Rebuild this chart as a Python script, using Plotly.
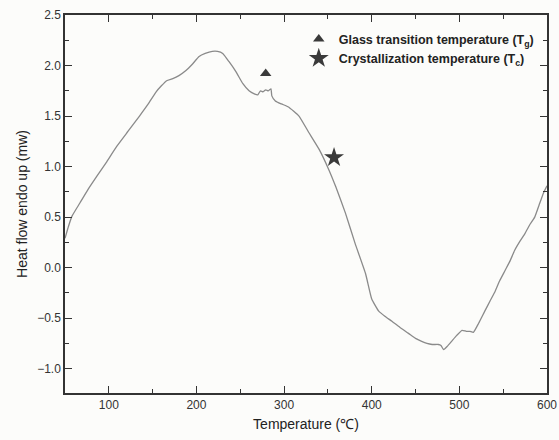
import plotly.graph_objects as go

temperature = [50, 54, 58, 67, 76, 86, 97, 109, 122, 135, 145, 154, 160, 166, 173, 180, 188, 195, 203, 210, 218,
               224, 230, 237, 245, 253, 260, 266, 270, 273, 276, 279, 282, 285, 286, 290, 297, 305, 317, 328, 340,
               351, 359, 370, 381, 393, 400, 408, 415, 423, 432, 442, 450, 457, 463, 469, 476, 479, 482, 486, 491,
               497, 503, 508, 512, 516, 522, 529, 535, 541, 546, 552, 558, 563, 569, 575, 580, 586, 591, 596, 600]
heat_flow = [0.29, 0.41, 0.51, 0.64, 0.77, 0.90, 1.04, 1.20, 1.35, 1.50, 1.62, 1.74, 1.80, 1.85, 1.87, 1.90, 1.95, 2.01, 2.09, 2.12, 2.14,
             2.14, 2.12, 2.04, 1.94, 1.82, 1.75, 1.72, 1.71, 1.75, 1.74, 1.76, 1.75, 1.77, 1.70, 1.65, 1.62, 1.59, 1.50, 1.34, 1.17,
             0.97, 0.80, 0.54, 0.24, -0.06, -0.31, -0.43, -0.48, -0.53, -0.59, -0.65, -0.70, -0.73, -0.75, -0.76, -0.76, -0.77, -0.81, -0.78, -0.73,
             -0.67, -0.62, -0.63, -0.63, -0.64, -0.55, -0.43, -0.33, -0.23, -0.13, -0.03, 0.07, 0.17, 0.26, 0.34, 0.42, 0.50, 0.62, 0.74, 0.81]

tg_point = (279, 1.92)
tc_point = (357, 1.09)

x_ticks = [100, 200, 300, 400, 500, 600]
y_ticks = [-1.0, -0.5, 0.0, 0.5, 1.0, 1.5, 2.0, 2.5]

fig = go.Figure()
fig.add_trace(go.Scatter(x=temperature, y=heat_flow, mode="lines", line_shape="spline",
                         line=dict(color="#8a8a8a", width=1.3, smoothing=0.4), showlegend=False))
fig.add_trace(go.Scatter(x=[tg_point[0]], y=[tg_point[1]], mode="markers",
                         marker=dict(symbol="triangle-up", size=10, color="#3a3a3a"),
                         name="<b>Glass transition temperature (T<sub>g</sub>)</b>"))
fig.add_trace(go.Scatter(x=[tc_point[0]], y=[tc_point[1]], mode="markers",
                         marker=dict(symbol="star", size=15, color="#3a3a3a"),
                         name="<b>Crystallization temperature (T<sub>c</sub>)</b>"))

axis_common = dict(showline=True, linecolor="#333", linewidth=1.5, mirror="ticks",
                   ticks="inside", ticklen=7, tickwidth=1, tickcolor="#333",
                   showgrid=False, zeroline=False, automargin=False,
                   tickfont=dict(family="Liberation Sans, Arial, sans-serif", size=12, color="#333"))

fig.update_xaxes(range=[50, 600], tickvals=x_ticks,
                 minor=dict(ticks="inside", ticklen=4, dtick=50, tick0=0, tickcolor="#333"),
                 title=dict(text="Temperature (℃)", standoff=8,
                            font=dict(family="Liberation Sans, Arial, sans-serif", size=14, color="#222")),
                 **axis_common)
fig.update_yaxes(range=[-1.24, 2.5], tickvals=y_ticks, tickformat=".1f",
                 minor=dict(ticks="inside", ticklen=4, dtick=0.25, tick0=0, tickcolor="#333"),
                 title=dict(text="Heat flow endo up (mw)", standoff=6,
                            font=dict(family="Liberation Sans, Arial, sans-serif", size=14, color="#222")),
                 **axis_common)

fig.update_layout(
    width=559, height=440,
    margin=dict(l=65, r=12, t=15, b=47),
    paper_bgcolor="#fcfcfa", plot_bgcolor="#fcfcfa",
    legend=dict(x=0.485, y=0.975, xanchor="left", yanchor="top",
                bgcolor="rgba(0,0,0,0)", tracegroupgap=0, itemwidth=30,
                font=dict(family="Liberation Sans Narrow, Arial Narrow, Liberation Sans, sans-serif", size=12.5, color="#222")),
)

fig.write_html("out.html")
